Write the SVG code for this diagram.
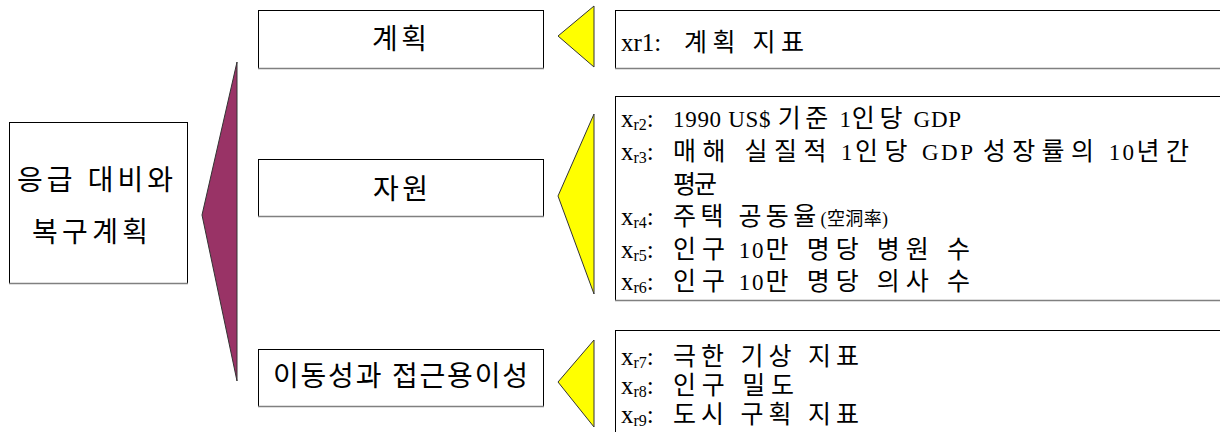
<svg xmlns="http://www.w3.org/2000/svg" width="1220" height="432" viewBox="0 0 1220 432">
<style>
.box{fill:#fff;stroke:#000;stroke-width:1}
.shade{stroke:#808080;stroke-width:1.5}
.ko{font-family:'Liberation Serif','Noto Sans CJK KR',serif;fill:#000}
.lbl{font-size:28px}
.item{font-size:23px}
.pre{font-size:25px}
.k{font-size:25px;letter-spacing:4px}
.sub{font-size:16px}
.small{font-size:18px}
.tri{stroke:#333;stroke-width:1}
</style>
<rect width="1220" height="432" fill="#fff"/>
<g id="connectors">
<polygon class="tri" points="237,62 202,215 237,381" fill="#993366"/>
<polygon class="tri" points="594,6 558,36 594,67" fill="#ffff00"/>
<polygon class="tri" points="594,114 558,196 594,294" fill="#ffff00"/>
<polygon class="tri" points="594,340 558,382 594,427" fill="#ffff00"/>
</g>
<g id="root">
<rect class="box" x="9.5" y="122.5" width="178" height="161"/>
<line class="shade" x1="9" y1="283.5" x2="188" y2="283.5"/>
<text class="ko lbl" x="17" y="190" textLength="156" lengthAdjust="spacing">응급 대비와</text>
<text class="ko lbl" x="32" y="242" textLength="116" lengthAdjust="spacing">복구계획</text>
</g>
<g id="plan">
<rect class="box" x="258.5" y="10.5" width="285" height="58"/>
<line class="shade" x1="258" y1="68.5" x2="544" y2="68.5"/>
<text class="ko lbl" x="372" y="49" textLength="55" lengthAdjust="spacing">계획</text>
</g>
<g id="resource">
<rect class="box" x="258.5" y="159.5" width="285" height="57"/>
<line class="shade" x1="258" y1="216.5" x2="544" y2="216.5"/>
<text class="ko lbl" x="373" y="199" textLength="55" lengthAdjust="spacing">자원</text>
</g>
<g id="mobility">
<rect class="box" x="258.5" y="349.5" width="285" height="57"/>
<line class="shade" x1="258" y1="406.5" x2="544" y2="406.5"/>
<text class="ko lbl" x="273" y="386" textLength="255" lengthAdjust="spacing">이동성과 접근용이성</text>
</g>
<g id="plan-items">
<rect class="box" x="615.5" y="10.5" width="620" height="58"/>
<line class="shade" x1="615" y1="68.5" x2="1220" y2="68.5"/>
<text class="ko pre" x="621" y="51">xr1:</text>
<text class="ko k" x="684" y="51" textLength="124" lengthAdjust="spacing">계획 지표</text>
</g>
<g id="resource-items">
<rect class="box" x="615.5" y="96.5" width="620" height="204"/>
<line class="shade" x1="615" y1="300.5" x2="1220" y2="300.5"/>
<text class="ko pre" x="621" y="127">x<tspan class="sub" dy="3">r2</tspan><tspan dy="-3">:</tspan></text>
<text class="ko item" x="673" y="127" textLength="288" lengthAdjust="spacing">1990 US$ <tspan class="k">기준</tspan> 1<tspan class="k">인당</tspan> GDP</text>
<text class="ko pre" x="621" y="160">x<tspan class="sub" dy="3">r3</tspan><tspan dy="-3">:</tspan></text>
<text class="ko item" x="673" y="160" textLength="520" lengthAdjust="spacing"><tspan class="k">매해 실질적</tspan> 1<tspan class="k">인당</tspan> GDP <tspan class="k">성장률의</tspan> 10<tspan class="k">년간</tspan></text>
<text class="ko k" x="673" y="193" textLength="48" lengthAdjust="spacing">평균</text>
<text class="ko pre" x="621" y="225">x<tspan class="sub" dy="3">r4</tspan><tspan dy="-3">:</tspan></text>
<text class="ko item" x="673" y="225" textLength="215" lengthAdjust="spacing"><tspan class="k">주택 공동율</tspan><tspan class="small">(空洞率)</tspan></text>
<text class="ko pre" x="621" y="258">x<tspan class="sub" dy="3">r5</tspan><tspan dy="-3">:</tspan></text>
<text class="ko item" x="673" y="258" textLength="301" lengthAdjust="spacing"><tspan class="k">인구</tspan> 10<tspan class="k">만 명당 병원 수</tspan></text>
<text class="ko pre" x="621" y="290">x<tspan class="sub" dy="3">r6</tspan><tspan dy="-3">:</tspan></text>
<text class="ko item" x="673" y="290" textLength="301" lengthAdjust="spacing"><tspan class="k">인구</tspan> 10<tspan class="k">만 명당 의사 수</tspan></text>
</g>
<g id="mobility-items">
<rect class="box" x="615.5" y="330.5" width="620" height="120"/>
<text class="ko pre" x="621" y="365">x<tspan class="sub" dy="3">r7</tspan><tspan dy="-3">:</tspan></text>
<text class="ko k" x="673" y="365" textLength="190" lengthAdjust="spacing">극한 기상 지표</text>
<text class="ko pre" x="621" y="394">x<tspan class="sub" dy="3">r8</tspan><tspan dy="-3">:</tspan></text>
<text class="ko k" x="673" y="394" textLength="125" lengthAdjust="spacing">인구 밀도</text>
<text class="ko pre" x="621" y="423">x<tspan class="sub" dy="3">r9</tspan><tspan dy="-3">:</tspan></text>
<text class="ko k" x="673" y="423" textLength="190" lengthAdjust="spacing">도시 구획 지표</text>
</g>
</svg>
